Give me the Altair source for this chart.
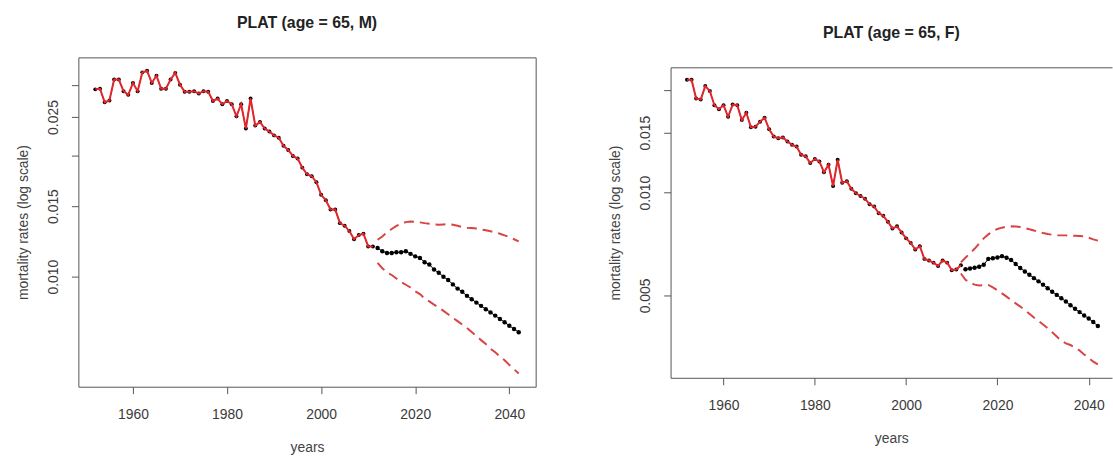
import altair as alt
import pandas as pd

# ---------------- data ----------------
m_hist_years = list(range(1952, 2012))
m_hist = [0.0293, 0.0294, 0.0272, 0.0275, 0.0310, 0.0310, 0.0290, 0.0284, 0.0304, 0.0290,
          0.0323, 0.0326, 0.0304, 0.0317, 0.0294, 0.0294, 0.0310, 0.0322, 0.0301, 0.0289,
          0.0289, 0.0290, 0.0286, 0.0290, 0.0289, 0.0274, 0.0278, 0.0269, 0.0274, 0.0269,
          0.0251, 0.0269, 0.0234, 0.0278, 0.0238, 0.0243, 0.0234, 0.0230, 0.0225, 0.0222,
          0.0212, 0.0207, 0.0200, 0.0197, 0.0187, 0.0180, 0.0178, 0.0172, 0.0160, 0.0155,
          0.0147, 0.0147, 0.0136, 0.0134, 0.0130, 0.0124, 0.0127, 0.0128, 0.0119, 0.0119]
m_fc_years = list(range(2012, 2043))
m_fc = [0.01179, 0.01157, 0.01146, 0.01146, 0.01151, 0.01151, 0.01157, 0.01140, 0.01124, 0.01114,
        0.01087, 0.01073, 0.01042, 0.01023, 0.01000, 0.00981, 0.00957, 0.00934, 0.00917, 0.00896,
        0.00879, 0.00862, 0.00846, 0.00830, 0.00815, 0.00800, 0.00785, 0.00770, 0.00755, 0.00741, 0.00727]
m_band_years = list(range(2012, 2043))
m_upper = [0.01236, 0.01260, 0.01290, 0.01315, 0.01338, 0.01355, 0.01368, 0.01372, 0.01370, 0.01366,
           0.01360, 0.01355, 0.01350, 0.01348, 0.01350, 0.01352, 0.01348, 0.01340, 0.01330, 0.01325,
           0.01322, 0.01318, 0.01312, 0.01305, 0.01298, 0.01290, 0.01280, 0.01268, 0.01255, 0.01240, 0.01225]
m_lower = [0.01083, 0.01050, 0.01025, 0.01010, 0.00990, 0.00970, 0.00955, 0.00940, 0.00920, 0.00905,
           0.00882, 0.00868, 0.00852, 0.00838, 0.00822, 0.00806, 0.00790, 0.00775, 0.00760, 0.00745,
           0.00728, 0.00712, 0.00695, 0.00680, 0.00662, 0.00648, 0.00633, 0.00619, 0.00603, 0.00588, 0.00574]

f_hist_years = list(range(1952, 2013))
f_hist = [0.02142, 0.02142, 0.01887, 0.01875, 0.02053, 0.01986, 0.01804, 0.01757, 0.01804, 0.01669,
          0.01812, 0.01804, 0.01632, 0.01714, 0.01554, 0.01561, 0.01614, 0.01658, 0.01534, 0.01460,
          0.01444, 0.01452, 0.01412, 0.01381, 0.01366, 0.01292, 0.01278, 0.01222, 0.01255, 0.01235,
          0.01148, 0.01208, 0.01046, 0.01249, 0.01069, 0.01081, 0.01027, 0.00996, 0.00978, 0.00960,
          0.00925, 0.00911, 0.00871, 0.00856, 0.00822, 0.00786, 0.00797, 0.00765, 0.00735, 0.00713,
          0.00682, 0.00697, 0.00640, 0.00633, 0.00624, 0.00610, 0.00633, 0.00624, 0.00593, 0.00596,
          0.00613]
f_fc_years = list(range(2013, 2043))
f_fc = [0.00597, 0.00600, 0.00603, 0.00607, 0.00615, 0.00640, 0.00643, 0.00646, 0.00652, 0.00645,
        0.00635, 0.00618, 0.00602, 0.00588, 0.00575, 0.00562, 0.00550, 0.00538, 0.00525, 0.00513,
        0.00502, 0.00491, 0.00480, 0.00468, 0.00457, 0.00447, 0.00437, 0.00428, 0.00418, 0.00407]
f_band_years = list(range(2012, 2043))
f_upper = [0.00625, 0.00645, 0.00665, 0.00685, 0.00710, 0.00735, 0.00755, 0.00772, 0.00783, 0.00790,
           0.00795, 0.00797, 0.00796, 0.00793, 0.00788, 0.00782, 0.00775, 0.00768, 0.00762, 0.00757,
           0.00753, 0.00750, 0.00750, 0.00750, 0.00749, 0.00748, 0.00747, 0.00745, 0.00738, 0.00730, 0.00724]
f_lower = [0.00580, 0.00556, 0.00545, 0.00538, 0.00535, 0.00536, 0.00537, 0.00528, 0.00518, 0.00507,
           0.00496, 0.00485, 0.00474, 0.00464, 0.00453, 0.00442, 0.00431, 0.00421, 0.00411, 0.00401,
           0.00390, 0.00379, 0.00368, 0.00362, 0.00358, 0.00352, 0.00345, 0.00336, 0.00328, 0.00320, 0.00314]

x_ticks = [1960, 1980, 2000, 2020, 2040]
m_y_ticks = [0.010, 0.015, 0.020, 0.025, 0.030]
m_y_labeled = [0.010, 0.015, 0.025]
f_y_ticks = [0.005, 0.010, 0.015, 0.020]
f_y_labeled = [0.005, 0.010, 0.015]

FONT = "Liberation Sans"
RED = "#e3262b"
DASH_RED = "#d94343"
FRAME = "#555"


def panel(title, hy, hv, fy, fv, by, up, lo, xdom, ydom, yticks, ylab, w, h, open_right=False):
    hist = pd.DataFrame({"year": hy, "rate": hv})
    fc = pd.DataFrame({"year": fy, "rate": fv})
    band = pd.DataFrame({"year": by + by, "rate": up + lo,
                         "bound": ["upper"] * len(by) + ["lower"] * len(by)})
    lab = ",".join(repr(v) for v in ylab)
    xscale = alt.Scale(domain=xdom, nice=False, zero=False)
    xb = alt.X("year:Q", scale=xscale,
               axis=alt.Axis(values=x_ticks, format="d", title="years",
                             domain=open_right, domainColor=FRAME))
    xn = alt.X("year:Q", scale=xscale, axis=None)
    xt = alt.X("year:Q", scale=xscale,
               axis=alt.Axis(orient="top", labels=False, ticks=False, domain=True,
                             domainColor=FRAME, title=None))
    y = alt.Y("rate:Q", scale=alt.Scale(type="log", domain=ydom, nice=False, zero=False),
              axis=alt.Axis(values=yticks, labelOverlap=False, domain=open_right, domainColor=FRAME,
                            labelExpr=f"indexof([{lab}], datum.value) >= 0 ? format(datum.value, '.3f') : ''",
                            title="mortality rates (log scale)"))
    h_line = alt.Chart(hist).mark_line(color="black", strokeWidth=1).encode(x=xb, y=y)
    h_pts = alt.Chart(hist).mark_circle(color="black", size=16, opacity=1).encode(x=xn, y=y)
    f_line = alt.Chart(fc).mark_line(color="black", strokeWidth=1).encode(x=xn, y=y)
    f_pts = alt.Chart(fc).mark_circle(color="black", size=20, opacity=1).encode(x=xn, y=y)
    r_line = alt.Chart(hist).mark_line(color=RED, strokeWidth=2).encode(
        x=xt if open_right else xn, y=y)
    b_line = alt.Chart(band).mark_line(color=DASH_RED, strokeWidth=2, strokeDash=[10, 6]).encode(
        x=xn, y=y, detail="bound:N")
    lay = alt.layer(h_line, h_pts, f_line, f_pts, r_line, b_line).properties(
        width=w, height=h, title=title).resolve_axis(x="independent")
    if open_right:
        lay = lay.properties(view=alt.ViewBackground(stroke="transparent"))
    return lay


def spacer(hgt):
    return alt.Chart(pd.DataFrame({"v": [0]})).mark_point(size=0, opacity=0).encode(
        x=alt.X("v:Q", axis=None), y=alt.Y("v:Q", axis=None)
    ).properties(width=1, height=hgt, view=alt.ViewBackground(stroke="transparent"))


left = panel(alt.TitleParams("PLAT (age = 65, M)"),
             m_hist_years, m_hist, m_fc_years, m_fc, m_band_years, m_upper, m_lower,
             [1948.4, 2045.6], [0.00532, 0.0352], m_y_ticks, m_y_labeled, 461, 332)
right = panel(alt.TitleParams("PLAT (age = 65, F)"),
              f_hist_years, f_hist, f_fc_years, f_fc, f_band_years, f_upper, f_lower,
              [1948.4, 2045.1], [0.00287, 0.0233], f_y_ticks, f_y_labeled, 445, 313,
              open_right=True)

chart = alt.hconcat(
    alt.vconcat(spacer(1), left, spacing=0),
    alt.vconcat(spacer(11), right, spacing=0),
    spacing=72
).properties(
    padding={"left": 16, "top": 9, "right": 0, "bottom": 0}
).configure(font=FONT).configure_view(
    stroke=FRAME, strokeWidth=1
).configure_axis(
    domain=False, grid=False, ticks=True, tickColor=FRAME, tickSize=7, tickWidth=1,
    labelFont=FONT, labelFontSize=14, labelColor="#3a3a3a",
    titleFont=FONT, titleFontSize=14, titleFontWeight="normal", titleColor="#444"
).configure_axisY(
    labelAngle=270, labelAlign="center", labelBaseline="bottom", labelPadding=11, titlePadding=16
).configure_axisX(
    labelPadding=14, titlePadding=19
).configure_title(
    font=FONT, fontSize=16, fontWeight="bold", color="#222", anchor="middle", offset=27
)

chart.save("out.html", embed_options={"renderer": "svg", "actions": False})
